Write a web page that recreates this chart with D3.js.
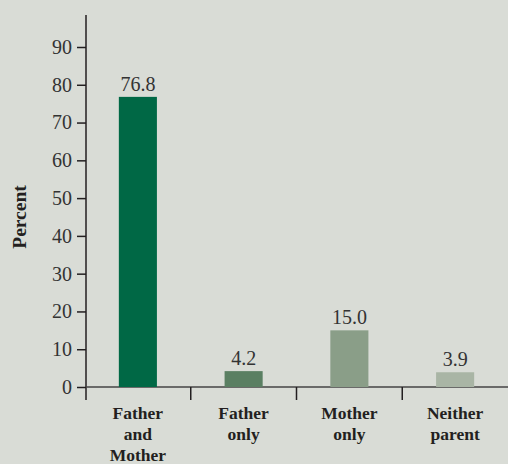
<!DOCTYPE html>
<html>
<head>
<meta charset="utf-8">
<script src="https://cdn.jsdelivr.net/npm/d3@7"></script>
<style>
  body { margin: 0; background: #d9dcd6; }
  svg { display: block; }
</style>
</head>
<body>
<div id="chart"></div>
<script>
// data
var categories = [["Father", "and", "Mother"], ["Father", "only"], ["Mother", "only"], ["Neither", "parent"]];
var values = [76.8, 4.2, 15.0, 3.9];
var barColors = ["#006845", "#5a7f62", "#8a9e88", "#a9b5a5"];
var yTicks = [0, 10, 20, 30, 40, 50, 60, 70, 80, 90];

var attrs = {
  width: 508,
  height: 464,
  font: "'Liberation Serif', 'DejaVu Serif', serif",
  textColor: "#231f20"
};

var svg = d3.select("#chart").append("svg")
  .attr("width", attrs.width)
  .attr("height", attrs.height);

svg.append("rect")
  .attr("width", attrs.width)
  .attr("height", attrs.height)
  .attr("fill", "#d9dcd6");

var x = d3.scaleBand()
  .domain(d3.range(values.length))
  .range([85, 508])
  .paddingInner(0.64)
  .paddingOuter(0.32);

var y = d3.scaleLinear()
  .domain([0, 90])
  .range([387, 47]);

// y axis line (extends above 90 and below 0)
svg.append("line")
  .attr("x1", 86).attr("x2", 86)
  .attr("y1", 15).attr("y2", 400)
  .attr("stroke", attrs.textColor)
  .attr("stroke-width", 1.5);

// y ticks
var yAxis = svg.append("g").attr("transform", "translate(86,0)")
  .call(d3.axisLeft(y).tickValues(yTicks).tickSize(9).tickPadding(5).tickFormat(d3.format("d")));
yAxis.select(".domain").remove();
yAxis.selectAll(".tick line").attr("stroke", attrs.textColor).attr("stroke-width", 1.5);
yAxis.selectAll(".tick text")
  .attr("font-family", attrs.font)
  .attr("font-size", 20)
  .attr("fill", "#333");

// x axis baseline
svg.append("line")
  .attr("x1", 86).attr("x2", 508)
  .attr("y1", y(0)).attr("y2", y(0))
  .attr("stroke", "#444")
  .attr("stroke-width", 1.5);

// separators between categories
var step = x.step();
svg.selectAll(".sep").data(d3.range(1, values.length))
  .enter().append("line")
  .attr("class", "sep")
  .attr("x1", d => x(d) - step * 0.32)
  .attr("x2", d => x(d) - step * 0.32)
  .attr("y1", y(0)).attr("y2", 400)
  .attr("stroke", attrs.textColor)
  .attr("stroke-width", 1.5);

// bars
svg.selectAll(".bar").data(values)
  .enter().append("rect")
  .attr("class", "bar")
  .attr("x", (d, i) => x(i))
  .attr("width", x.bandwidth())
  .attr("y", d => y(d))
  .attr("height", d => y(0) - y(d))
  .attr("fill", (d, i) => barColors[i]);

// value labels
svg.selectAll(".val").data(values)
  .enter().append("text")
  .attr("class", "val")
  .attr("x", (d, i) => x(i) + x.bandwidth() / 2)
  .attr("y", d => y(d) - 6)
  .attr("text-anchor", "middle")
  .attr("font-family", attrs.font)
  .attr("font-size", 20)
  .attr("fill", "#333")
  .text(d => d.toFixed(1));

// category labels
var catG = svg.selectAll(".cat").data(categories)
  .enter().append("text")
  .attr("class", "cat")
  .attr("text-anchor", "middle")
  .attr("font-family", attrs.font)
  .attr("font-weight", "bold")
  .attr("font-size", 17.5)
  .attr("fill", attrs.textColor);
catG.selectAll("tspan").data(d => d)
  .enter().append("tspan")
  .attr("x", function() {
    var i = categories.indexOf(d3.select(this.parentNode).datum());
    return x(i) + x.bandwidth() / 2;
  })
  .attr("y", (d, j) => 419 + j * 21)
  .text(d => d);

// y axis title
svg.append("text")
  .attr("transform", "translate(26,217) rotate(-90)")
  .attr("text-anchor", "middle")
  .attr("font-family", attrs.font)
  .attr("font-weight", "bold")
  .attr("font-size", 19.5)
  .attr("fill", attrs.textColor)
  .text("Percent");
</script>
</body>
</html>
